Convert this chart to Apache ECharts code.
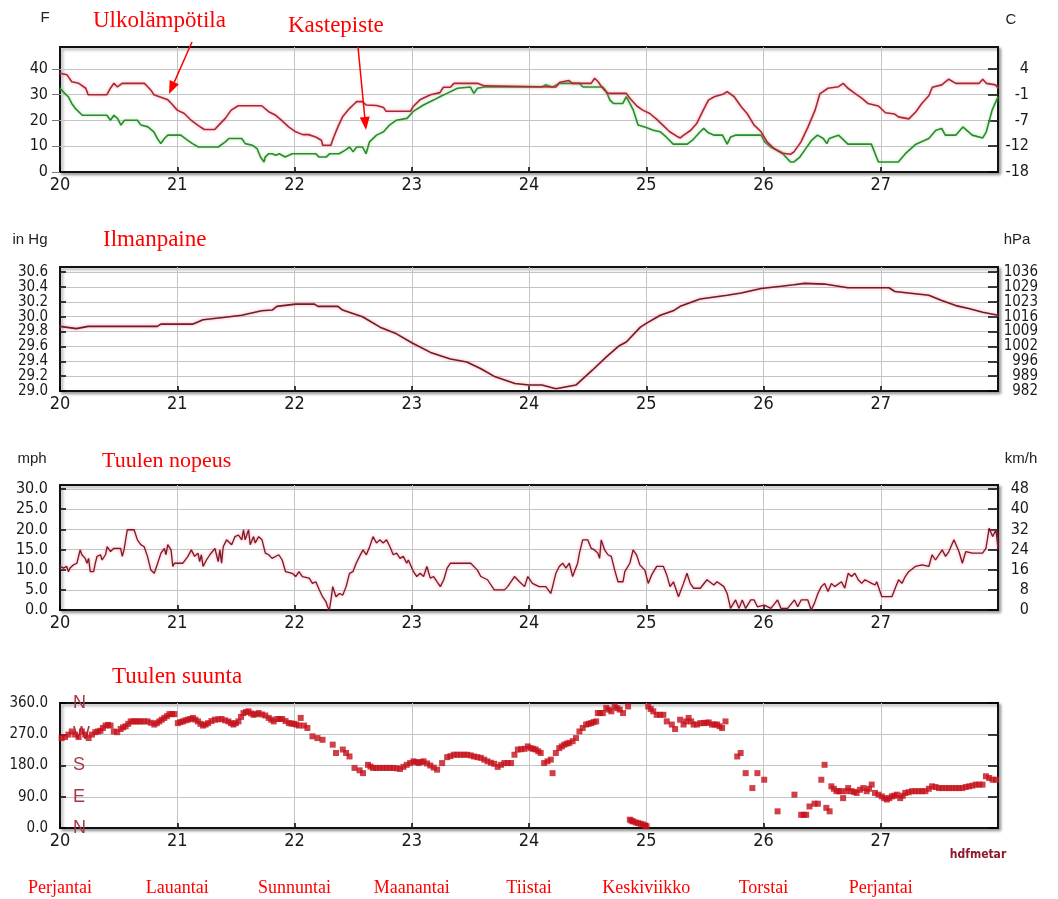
<!DOCTYPE html>
<html>
<head>
<meta charset="utf-8">
<title>Sää 20.-27.</title>
<script src="https://cdn.jsdelivr.net/npm/echarts@6/dist/echarts.min.js"></script>
<style>
  html, body { margin: 0; padding: 0; background: #fff; }
  #main { width: 1058px; height: 899px; }
</style>
</head>
<body>
<div id="main"></div>
<script>
// --- data, x = day of month ---
var tempDays = [20.00,20.06,20.10,20.16,20.22,20.24,20.40,20.43,20.46,20.49,20.53,20.72,20.75,20.78,20.80,20.86,20.92,20.95,21.00,21.06,
  21.12,21.18,21.23,21.32,21.35,21.41,21.46,21.52,21.72,21.78,21.84,21.89,21.95,22.01,22.07,22.12,22.18,22.23,22.24,22.31,
  22.33,22.37,22.41,22.47,22.50,22.53,22.58,22.61,22.70,22.76,22.78,22.99,23.01,23.07,23.16,23.24,23.27,23.33,23.36,23.56,
  23.62,24.20,24.23,24.26,24.34,24.37,24.40,24.53,24.56,24.59,24.62,24.67,24.83,24.86,24.92,24.97,25.03,25.09,25.15,25.20,
  25.26,25.29,25.32,25.38,25.43,25.48,25.53,25.58,25.66,25.69,25.75,25.81,25.86,25.92,25.98,26.03,26.09,26.15,26.23,26.26,
  26.32,26.38,26.44,26.48,26.55,26.64,26.68,26.72,26.78,26.84,26.89,26.98,27.04,27.12,27.15,27.24,27.30,27.35,27.41,27.44,
  27.52,27.58,27.64,27.84,27.87,27.90,27.98,28.00];
var tempF = [38.3,37.7,35.0,34.4,32.5,30.0,30.0,32.5,34.4,33.0,34.4,34.4,33.0,31.5,30.0,29.0,28.0,26.6,24.0,22.7,
  20.0,18.0,16.5,16.5,18.0,20.8,24.0,25.7,25.7,23.4,22.0,20.0,17.5,15.6,14.5,14.5,13.6,12.3,10.4,10.4,
  13.0,17.5,21.4,24.7,26.0,27.3,27.3,26.0,25.8,25.0,23.6,23.6,25.3,28.0,30.0,30.8,32.9,32.9,34.4,34.4,
  33.4,33.0,33.0,34.7,35.5,34.4,34.4,34.4,36.4,35.0,33.0,30.5,30.5,28.6,25.6,24.0,22.7,20.4,17.8,15.6,
  13.9,13.2,14.3,16.2,18.8,23.4,27.9,29.2,30.3,31.2,29.2,25.3,22.7,18.2,15.6,11.7,9.1,7.4,6.9,7.8,
  11.7,17.5,24.0,30.3,32.5,33.1,34.4,32.5,30.5,28.6,26.6,25.6,23.0,22.5,21.4,20.6,23.4,26.6,29.6,32.9,
  33.8,36.0,34.4,34.4,36.0,34.4,33.8,32.5];

var dewDays = [20.00,20.04,20.07,20.10,20.13,20.19,20.40,20.43,20.46,20.49,20.52,20.55,20.66,20.69,20.75,20.80,20.83,20.86,20.89,20.92,
  21.03,21.09,21.13,21.18,21.35,21.41,21.44,21.55,21.58,21.64,21.68,21.71,21.74,21.75,21.78,21.81,21.84,21.87,21.92,21.98,
  22.18,22.21,22.27,22.30,22.38,22.43,22.47,22.50,22.53,22.58,22.61,22.64,22.70,22.76,22.81,22.87,22.96,23.01,23.10,23.19,
  23.24,23.30,23.39,23.50,23.53,23.56,23.62,24.11,24.14,24.20,24.26,24.43,24.46,24.63,24.66,24.69,24.72,24.80,24.83,24.86,
  24.89,24.93,25.00,25.06,25.12,25.17,25.23,25.35,25.40,25.46,25.49,25.53,25.58,25.65,25.69,25.72,25.76,25.98,26.01,26.06,
  26.15,26.23,26.26,26.31,26.35,26.41,26.46,26.51,26.54,26.56,26.64,26.72,26.92,26.98,27.15,27.21,27.30,27.41,27.47,27.52,
  27.55,27.64,27.70,27.78,27.87,27.90,27.95,28.00];
var dewF = [32.5,30.5,29.2,26.6,24.7,22.0,22.0,20.1,22.0,20.8,18.2,20.1,20.1,18.2,17.5,15.6,13.0,11.0,13.0,14.3,
  14.3,12.3,11.0,9.7,9.7,11.7,13.0,13.0,11.0,10.4,9.1,5.8,3.9,5.8,7.1,7.1,6.5,7.1,5.8,7.1,
  7.1,5.8,5.8,7.1,7.1,8.4,9.7,7.8,9.7,9.7,7.1,11.7,14.3,15.6,18.2,20.1,20.8,23.4,26.0,28.0,
  29.2,30.5,32.5,33.0,30.5,32.5,33.0,33.0,33.8,33.0,34.4,34.4,33.0,33.0,31.2,27.9,26.6,26.6,29.2,26.6,
  24.0,18.2,17.3,16.2,15.6,13.6,10.8,10.8,12.6,15.6,16.9,15.2,14.3,14.3,10.8,13.6,14.3,14.3,11.7,9.7,
  7.8,3.9,3.9,5.8,8.4,12.3,14.3,13.0,11.0,13.0,14.3,10.8,10.8,3.9,3.9,7.1,10.8,13.0,16.2,16.9,
  14.3,14.3,17.5,14.3,13.2,15.6,24.0,29.2];

var pressDays = [20.00,20.14,20.24,20.83,20.86,21.13,21.22,21.39,21.55,21.72,21.81,21.85,22.01,22.17,22.20,22.37,22.41,22.58,22.73,22.87,
  23.00,23.16,23.33,23.47,23.59,23.70,23.88,24.00,24.11,24.23,24.40,24.54,24.66,24.77,24.83,24.95,25.00,25.12,25.23,25.29,
  25.46,25.69,25.81,25.98,26.15,26.26,26.35,26.52,26.64,26.72,27.07,27.12,27.41,27.52,27.64,27.75,27.87,28.00];
var pressInHg = [29.87,29.84,29.87,29.87,29.90,29.90,29.96,29.99,30.02,30.08,30.09,30.14,30.17,30.17,30.14,30.14,30.09,30.00,29.86,29.77,
  29.65,29.52,29.43,29.39,29.30,29.20,29.10,29.08,29.08,29.03,29.08,29.28,29.46,29.61,29.66,29.86,29.91,30.02,30.08,30.14,
  30.24,30.29,30.32,30.38,30.41,30.43,30.45,30.44,30.41,30.39,30.39,30.34,30.29,30.22,30.15,30.11,30.06,30.02];

var windDays = [20.000,20.029,20.057,20.072,20.086,20.115,20.144,20.172,20.187,20.215,20.230,20.244,20.258,20.287,20.301,20.316,20.345,20.359,20.373,20.388,
  20.402,20.431,20.459,20.517,20.531,20.546,20.574,20.632,20.660,20.689,20.718,20.746,20.775,20.804,20.833,20.861,20.890,20.904,20.919,20.947,
  20.962,20.976,21.005,21.048,21.091,21.120,21.148,21.177,21.191,21.206,21.220,21.249,21.278,21.321,21.349,21.364,21.378,21.392,21.421,21.464,
  21.493,21.522,21.550,21.565,21.579,21.608,21.622,21.651,21.665,21.694,21.723,21.751,21.780,21.809,21.866,21.895,21.924,21.981,22.010,22.038,
  22.067,22.125,22.153,22.182,22.211,22.239,22.268,22.282,22.297,22.311,22.326,22.354,22.383,22.412,22.440,22.469,22.498,22.526,22.555,22.584,
  22.613,22.641,22.670,22.699,22.727,22.756,22.785,22.814,22.842,22.871,22.900,22.928,22.957,22.971,23.015,23.043,23.072,23.101,23.129,23.158,
  23.187,23.216,23.244,23.273,23.302,23.330,23.503,23.560,23.589,23.646,23.704,23.790,23.818,23.876,23.919,23.962,23.990,
  24.029,24.086,24.143,24.186,24.201,24.229,24.258,24.287,24.315,24.344,24.372,24.387,24.415,24.430,24.458,24.501,24.530,24.559,24.587,24.602,
  24.616,24.645,24.673,24.702,24.731,24.759,24.802,24.817,24.831,24.860,24.888,24.917,24.945,24.960,24.988,25.017,25.046,25.089,25.146,25.175,
  25.203,25.232,25.275,25.318,25.347,25.375,25.404,25.461,25.518,25.576,25.604,25.662,25.690,25.719,25.762,25.791,25.819,25.848,25.891,25.920,
  25.948,26.006,26.063,26.120,26.149,26.206,26.264,26.292,26.321,26.378,26.407,26.435,26.464,26.493,26.521,26.550,26.579,26.607,26.665,26.693,
  26.722,26.751,26.779,26.808,26.837,26.865,26.923,26.951,26.966,27.009,27.095,27.123,27.152,27.181,27.209,27.238,27.295,27.352,27.410,27.438,
  27.467,27.524,27.553,27.581,27.624,27.667,27.696,27.725,27.782,27.868,27.897,27.925,27.954,27.983,28.000];
var windMph = [10.8,10.4,10.8,9.5,10.4,11.2,11.6,14.9,13.7,12.8,11.6,12.8,9.5,9.5,11.6,13.3,13.7,12.4,12.8,13.7,
  15.7,14.5,15.3,15.3,13.3,14.9,19.9,19.9,17.4,16.2,15.7,13.3,9.9,9.1,11.6,14.1,15.3,13.7,16.2,14.9,
  10.8,11.6,11.6,11.6,13.3,14.9,13.3,14.1,12.0,13.7,10.8,12.4,13.7,15.3,12.0,14.9,11.6,15.7,17.4,16.2,
  18.2,18.6,17.4,19.9,17.4,19.9,16.2,18.2,16.6,18.2,17.4,14.1,13.7,12.8,13.7,12.4,9.5,9.1,8.3,9.5,
  8.3,7.9,6.6,7.0,5.0,3.3,2.1,0.8,0.0,2.5,5.8,3.3,4.1,3.7,5.8,9.1,9.5,11.6,13.3,14.9,
  13.7,15.7,18.2,16.6,17.4,16.6,17.4,15.7,13.7,14.1,12.8,13.3,11.6,12.4,9.5,8.3,9.1,8.3,10.8,7.9,
  8.3,7.0,5.8,7.5,10.4,11.6,11.6,9.9,8.3,7.5,5.0,5.0,5.8,8.3,7.0,5.8,8.3,
  6.6,5.8,5.8,4.1,5.8,9.1,10.8,11.6,10.4,11.6,8.3,9.5,11.6,14.1,17.4,17.4,15.3,14.9,14.1,12.8,
  17.4,14.9,13.7,13.3,9.9,7.0,7.0,9.5,9.1,11.6,14.9,13.7,11.2,11.6,9.9,6.6,8.7,10.8,10.8,8.7,
  5.8,7.0,3.3,6.6,9.1,6.6,5.4,5.4,7.5,6.2,7.0,5.8,4.1,0.4,2.5,0.4,2.5,0.4,2.5,2.5,
  0.8,1.2,0.4,2.5,0.4,0.4,2.5,0.8,2.5,2.5,0.0,1.7,4.1,5.8,6.6,4.6,6.6,5.8,7.0,5.4,
  9.1,8.3,9.1,7.5,6.6,7.5,6.6,6.2,7.0,3.3,3.3,5.4,7.5,6.6,8.3,9.5,10.8,11.2,10.8,13.7,
  12.4,14.9,13.3,14.5,17.4,14.5,11.6,14.5,14.1,14.1,15.3,20.3,18.2,19.9,15.3];

var dirDays = [20.014,20.043,20.072,20.100,20.129,20.158,20.187,20.215,20.244,20.273,20.301,20.323,20.345,20.366,20.388,20.410,20.431,20.459,20.488,20.517,
  20.538,20.560,20.582,20.603,20.625,20.646,20.668,20.689,20.718,20.746,20.775,20.804,20.826,20.847,20.868,20.890,20.912,20.933,20.955,20.976,
  21.005,21.026,21.048,21.070,21.091,21.112,21.134,21.155,21.177,21.198,21.220,21.242,21.263,21.292,21.321,21.350,21.378,21.407,21.436,21.458,
  21.479,21.500,21.522,21.544,21.565,21.587,21.608,21.630,21.651,21.672,21.694,21.722,21.751,21.780,21.802,21.823,21.852,21.874,21.895,21.924,
  21.952,21.974,21.995,22.016,22.038,22.053,22.082,22.110,22.153,22.196,22.239,22.326,22.354,22.412,22.440,22.469,22.512,22.555,22.584,22.627,
  22.648,22.670,22.698,22.727,22.756,22.785,22.814,22.842,22.871,22.900,22.929,22.957,22.986,23.015,23.037,23.058,23.080,23.101,23.130,23.158,
  23.187,23.216,23.259,23.302,23.330,23.359,23.388,23.417,23.446,23.474,23.503,23.531,23.560,23.589,23.618,23.646,23.675,23.704,23.733,23.762,
  23.790,23.818,23.847,23.876,23.905,23.933,23.962,
  23.990,24.014,24.036,24.057,24.079,24.100,24.129,24.158,24.186,24.201,24.229,24.258,24.280,24.301,24.322,24.344,24.372,24.401,24.430,24.458,
  24.487,24.508,24.530,24.551,24.573,24.587,24.608,24.630,24.659,24.680,24.702,24.731,24.752,24.774,24.802,24.845,24.860,24.874,24.888,24.910,
  24.931,24.952,24.974,24.990,25.003,25.017,25.038,25.060,25.089,25.118,25.146,25.175,25.218,25.246,25.289,25.318,25.340,25.361,25.383,25.404,
  25.433,25.461,25.490,25.511,25.533,25.561,25.583,25.604,25.625,25.647,25.676,25.776,25.805,25.848,25.905,25.948,26.006,26.120,26.264,26.321,
  26.343,26.364,26.392,26.435,26.464,26.493,26.521,26.536,26.564,26.579,26.600,26.622,26.643,26.665,26.679,26.708,26.722,26.751,26.772,26.794,
  26.822,26.851,26.880,26.900,26.923,26.951,26.980,27.009,27.030,27.052,27.073,27.095,27.116,27.138,27.166,27.188,27.209,27.238,27.266,27.295,
  27.324,27.352,27.381,27.410,27.438,27.467,27.496,27.524,27.553,27.581,27.610,27.639,27.667,27.696,27.725,27.753,27.782,27.811,27.839,27.868,
  27.897,27.925,27.954,27.983];
var dirDeg = [259,262,269,278,269,262,278,269,259,269,276,278,280,288,295,297,295,278,276,285,
  290,293,300,307,307,307,307,307,307,307,303,298,302,307,312,317,322,328,328,328,
  302,305,307,310,312,314,317,312,307,300,295,298,302,308,312,313,314,310,307,302,
  298,302,307,320,331,334,336,330,326,328,331,327,324,317,312,307,314,314,314,308,
  302,301,300,298,295,317,295,288,264,259,254,240,216,226,216,206,173,166,158,182,
  177,173,173,173,173,173,173,173,172,170,176,182,187,192,190,187,190,192,186,180,
  174,168,187,204,207,211,211,211,211,211,209,206,204,202,197,192,188,185,176,182,
  187,187,187,211,226,227,228,
  235,230,228,226,221,216,187,192,197,158,216,230,235,240,243,245,250,259,278,288,
  298,300,302,305,307,331,331,331,346,341,336,350,345,341,331,350,24,21,19,16,
  14,12,10,7,5,350,343,336,326,326,326,307,298,285,312,298,307,317,307,298,
  298,302,302,303,304,298,298,298,293,288,307,206,216,158,115,158,139,48,96,38,
  38,38,62,70,70,139,182,58,48,120,113,106,106,106,86,106,115,106,104,101,
  110,115,106,113,125,101,96,91,86,82,86,91,93,96,86,93,101,103,106,106,
  106,106,106,113,120,118,115,115,115,115,115,115,115,115,118,120,122,125,125,125,
  149,144,139,139];

var weekdays = ['Perjantai', 'Lauantai', 'Sunnuntai', 'Maanantai', 'Tiistai', 'Keskiviikko', 'Torstai', 'Perjantai'];
var compass = {0: 'N', 90: 'E', 180: 'S', 270: 'W', 360: 'N'};

var AXIS_FONT = '"Liberation Sans Narrow", "DejaVu Sans Condensed", "Liberation Sans", Arial, sans-serif';
var SERIF = '"Liberation Serif", "Times New Roman", serif';

function pairs(xs, ys) {
  return xs.map(function (x, i) { return [x, ys[i]]; });
}

function panel(top, height) {
  return {
    left: 60, right: 60, top: top, height: height,
    show: true, backgroundColor: '#fff',
    borderColor: '#111', borderWidth: 2,
    shadowColor: 'rgba(0,0,0,0.35)', shadowBlur: 3, shadowOffsetX: 2, shadowOffsetY: 2
  };
}

function dayAxis(i) {
  return {
    gridIndex: i, type: 'value', min: 20, max: 28, interval: 1,
    axisLine: { show: false },
    axisTick: { inside: true, length: 5, lineStyle: { color: '#000', width: 1.5 } },
    axisLabel: { margin: 4, fontSize: 18, color: '#1a1a1a', fontFamily: AXIS_FONT, showMinLabel: true, showMaxLabel: false },
    splitLine: { showMinLine: false, showMaxLine: false, lineStyle: { color: '#c4c4c4', width: 1 } }
  };
}

function leftAxis(i, min, max, step, fmt, size) {
  return {
    gridIndex: i, type: 'value', position: 'left', min: min, max: max, interval: step,
    axisLine: { show: false },
    axisTick: { inside: true, length: 6, lineStyle: { color: '#000', width: 1.5 } },
    axisLabel: { margin: 12, fontSize: size, lineHeight: 12, color: '#1a1a1a', fontFamily: AXIS_FONT,
      showMinLabel: true, showMaxLabel: false, hideOverlap: false, formatter: fmt },
    splitLine: { showMinLine: false, showMaxLine: false, lineStyle: { color: '#c4c4c4', width: 1 } }
  };
}

function rightAxis(i, min, max, step, fmt, margin, size) {
  return {
    gridIndex: i, type: 'value', position: 'right', min: min, max: max, interval: step,
    axisLine: { show: false },
    axisTick: { inside: true, length: 10, lineStyle: { color: '#000', width: 1.5 } },
    axisLabel: { show: !!fmt, margin: margin, align: 'right', fontSize: size || 16, lineHeight: 12, color: '#1a1a1a', fontFamily: AXIS_FONT,
      showMinLabel: true, showMaxLabel: false, hideOverlap: false, formatter: fmt },
    splitLine: { show: false }
  };
}

var chart = echarts.init(document.getElementById('main'));

var yAxes = [
  leftAxis(0, 0, 48.5, 10, function (v) { return String(v); }, 16),
  rightAxis(0, 0, 48.5, 10, function (v) { return String(Math.round((v - 32) * 5 / 9)); }, 31),
  leftAxis(1, 29, 30.67, 0.2, function (v) { return v.toFixed(1); }, 15),
  rightAxis(1, 29, 30.67, 0.2, function (v) { return String(Math.round(v * 33.8639)); }, 40, 15),
  leftAxis(2, 0, 31, 5, function (v) { return v.toFixed(1); }, 16),
  rightAxis(2, 0, 31, 5, function (v) { return String(Math.round(v * 1.609344)); }, 31),
  leftAxis(3, 0, 360, 90, function (v) { return v.toFixed(1); }, 15),
  {
    gridIndex: 3, type: 'value', position: 'left', min: 0, max: 360, interval: 90,
    axisLine: { show: false }, axisTick: { show: false }, splitLine: { show: false },
    axisLabel: { inside: true, margin: 13, fontSize: 18, color: '#a83848', fontFamily: '"Liberation Sans", Arial, sans-serif',
      showMinLabel: true, showMaxLabel: true,
      formatter: function (v) { return compass[v] || ''; } }
  },
  rightAxis(3, 0, 360, 90, null, 0)
];
yAxes[0].axisTick = { inside: false, length: 8, lineStyle: { color: '#777', width: 1 } };
yAxes[6].axisLabel.showMaxLabel = true;

chart.setOption({
  animation: false,
  backgroundColor: '#fff',
  grid: [panel(47, 125), panel(267, 124), panel(485, 125), panel(703, 125)],
  xAxis: [dayAxis(0), dayAxis(1), dayAxis(2), dayAxis(3)],
  yAxis: yAxes,
  series: [{
    name: 'Kastepiste', type: 'line', xAxisIndex: 0, yAxisIndex: 0,
    data: pairs(dewDays, dewF), symbol: 'none',
    lineStyle: { color: '#2f8a2f', width: 1.6, shadowColor: 'rgba(120,220,120,0.7)', shadowBlur: 3 }
  }, {
    name: 'Ulkolämpötila', type: 'line', xAxisIndex: 0, yAxisIndex: 0,
    data: pairs(tempDays, tempF), symbol: 'none',
    lineStyle: { color: '#a82a36', width: 1.6, shadowColor: 'rgba(255,110,130,0.7)', shadowBlur: 3 }
  }, {
    name: 'Ilmanpaine', type: 'line', xAxisIndex: 1, yAxisIndex: 2,
    data: pairs(pressDays, pressInHg), symbol: 'none',
    lineStyle: { color: '#6e1e24', width: 1.6, shadowColor: 'rgba(255,110,130,0.8)', shadowBlur: 3 }
  }, {
    name: 'Tuulen nopeus', type: 'line', xAxisIndex: 2, yAxisIndex: 4,
    data: pairs(windDays, windMph), symbol: 'none',
    lineStyle: { color: '#7a1a28', width: 1.3, shadowColor: 'rgba(255,110,130,0.8)', shadowBlur: 3 }
  }, {
    name: 'Tuulen suunta', type: 'scatter', xAxisIndex: 3, yAxisIndex: 6,
    data: pairs(dirDays, dirDeg), symbol: 'rect', symbolSize: 6,
    itemStyle: { color: '#c4101a' }
  }]
});

function txt(x, y, s, font, color, align) {
  return {
    type: 'text', x: x, y: y, z: 100,
    style: { text: s, font: font, fill: color, align: align || 'left', verticalAlign: 'middle' }
  };
}

function arrow(x1, y1, x2, y2) {
  var dx = x2 - x1, dy = y2 - y1, len = Math.sqrt(dx * dx + dy * dy);
  var ux = dx / len, uy = dy / len, bx = x2 - ux * 13, by = y2 - uy * 13;
  return [{
    type: 'line', z: 100, shape: { x1: x1, y1: y1, x2: bx, y2: by },
    style: { stroke: '#ff0000', lineWidth: 1.5 }
  }, {
    type: 'polygon', z: 100,
    shape: { points: [[x2, y2], [bx - uy * 5, by + ux * 5], [bx + uy * 5, by - ux * 5]] },
    style: { fill: '#ff0000' }
  }];
}

var red = '#ff0000';
var unitFont = '15px "Liberation Sans", Arial, sans-serif';
var graphics = [
  txt(45, 18, 'F', unitFont, '#222', 'center'),
  txt(1011, 20, 'C', unitFont, '#222', 'center'),
  txt(30, 240, 'in Hg', unitFont, '#222', 'center'),
  txt(1017, 240, 'hPa', unitFont, '#222', 'center'),
  txt(32, 459, 'mph', unitFont, '#222', 'center'),
  txt(1021, 459, 'km/h', unitFont, '#222', 'center'),
  txt(93, 21, 'Ulkolämpötila', '23px ' + SERIF, red),
  txt(288, 26, 'Kastepiste', '23px ' + SERIF, red),
  txt(103, 240, 'Ilmanpaine', '23px ' + SERIF, red),
  txt(102, 461, 'Tuulen nopeus', '22px ' + SERIF, red),
  txt(112, 677, 'Tuulen suunta', '23px ' + SERIF, red),
  txt(978, 855, 'hdfmetar', 'bold 12px ' + AXIS_FONT, '#8b1a2a', 'center')
].concat(arrow(192, 42, 169, 94), arrow(358, 47, 366, 130));

weekdays.forEach(function (name, i) {
  var px = chart.convertToPixel({ xAxisIndex: 3 }, 20 + i);
  graphics.push(txt(px, 888, name, '18px ' + SERIF, red, 'center'));
});

chart.setOption({ graphic: graphics });
</script>
</body>
</html>
